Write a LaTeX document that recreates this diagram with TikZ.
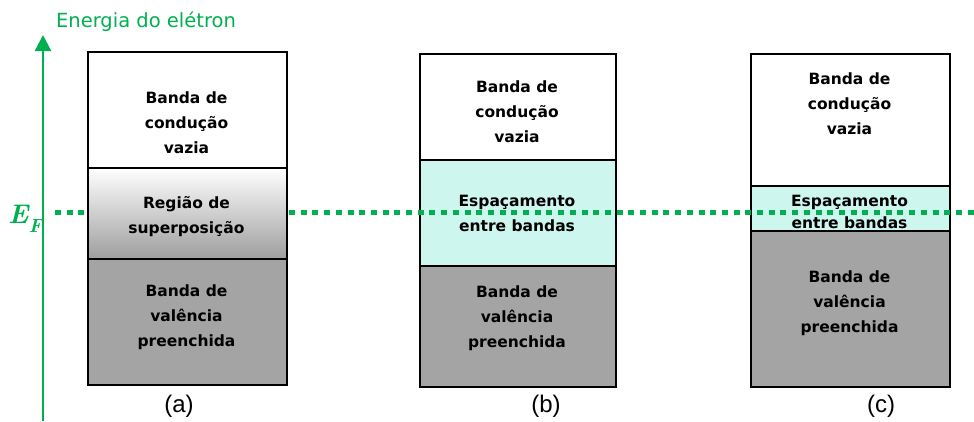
\documentclass[tikz,border=0pt]{standalone}
\usepackage{fontspec}
\newfontfamily\bandfont{DejaVu Sans}
\newfontfamily\labfont{Liberation Sans}
\usetikzlibrary{arrows.meta}
\definecolor{egreen}{RGB}{0,176,80}
\definecolor{gapcyan}{RGB}{204,246,238}
\definecolor{valgray}{RGB}{164,164,164}
\tikzset{
  band/.style={draw=black, line width=1.6pt, anchor=north west, inner sep=0pt},
  btext/.style={font=\bandfont\bfseries\fontsize{15.5}{25}\selectfont, align=center, inner sep=0pt},
  sublab/.style={font=\labfont\fontsize{24}{24}\selectfont, inner sep=0pt},
  fermi/.style={egreen, line width=5pt, dash pattern=on 6pt off 5.7pt},
}
\begin{document}
\begin{tikzpicture}[x=1pt,y=-1pt]
\useasboundingbox (0,0) rectangle (974,421);
% axis
\coordinate (axb) at (43,421);
\coordinate (axt) at (43,35);
\draw[egreen, line width=2.2pt, -{Triangle[width=16pt,length=16pt]}] (axb) -- (axt);
\node[egreen, font=\bandfont\fontsize{19.5}{20}\selectfont, anchor=base, inner sep=0pt] (title) at (146,27) {Energia do elétron};
\node[egreen, font=\fontsize{27}{27}\selectfont\bfseries\itshape, anchor=base west, inner sep=0pt] (ef) at (8,223) {E\raisebox{-9pt}{\fontsize{19}{19}\selectfont F}};
% (b)
\node[band, fill=white, minimum width=196pt, minimum height=106pt] (b1) at (419,53) {};
\node[band, fill=gapcyan, minimum width=196pt, minimum height=106pt] (b2) at (419,159) {};
\node[btext] (b1t) at (517,112) {Banda de\\condução\\vazia};
\node[btext] (b2t) at (517,213) {Espaçamento\\entre bandas};
\node[band, fill=valgray, minimum width=196pt, minimum height=121pt] (b3) at (419,265) {};
\node[btext] (b3t) at (517,318.7) {Banda de\\valência\\preenchida};
% (c)
\node[band, fill=white, minimum width=199pt, minimum height=132pt] (c1) at (750,53) {};
\node[band, fill=gapcyan, minimum width=199pt, minimum height=45pt] (c2) at (750,185) {};
\node[btext, font=\bandfont\bfseries\fontsize{15.5}{22}\selectfont] (c2t) at (849.5,212) {Espaçamento\\entre bandas};
\node[band, fill=valgray, minimum width=199pt, minimum height=156pt] (c3) at (750,230) {};
\node[btext] (c1t) at (849.5,104) {Banda de\\condução\\vazia};
\node[btext] (c3t) at (849.5,303) {Banda de\\valência\\preenchida};
% Fermi level
\coordinate (fl) at (55,212);
\coordinate (fr) at (974,212);
\draw[fermi] (fl) -- (fr);
% (a)
\node[band, fill=white, minimum width=199pt, minimum height=116pt] (a1) at (87,51) {};
\node[band, top color=white, bottom color=black!38, minimum width=199pt, minimum height=91pt] (a2) at (87,167) {};
\node[band, fill=valgray, minimum width=199pt, minimum height=126pt] (a3) at (87,258) {};
\node[btext] (a1t) at (186.5,123) {Banda de\\condução\\vazia};
\node[btext] (a2t) at (186.5,217) {Região de\\superposição};
\node[btext] (a3t) at (186.5,317) {Banda de\\valência\\preenchida};
% sub labels
\node[sublab] (la) at (179,406) {(a)};
\node[sublab] (lb) at (546,406) {(b)};
\node[sublab] (lc) at (881,406) {(c)};
\end{tikzpicture}
\end{document}
